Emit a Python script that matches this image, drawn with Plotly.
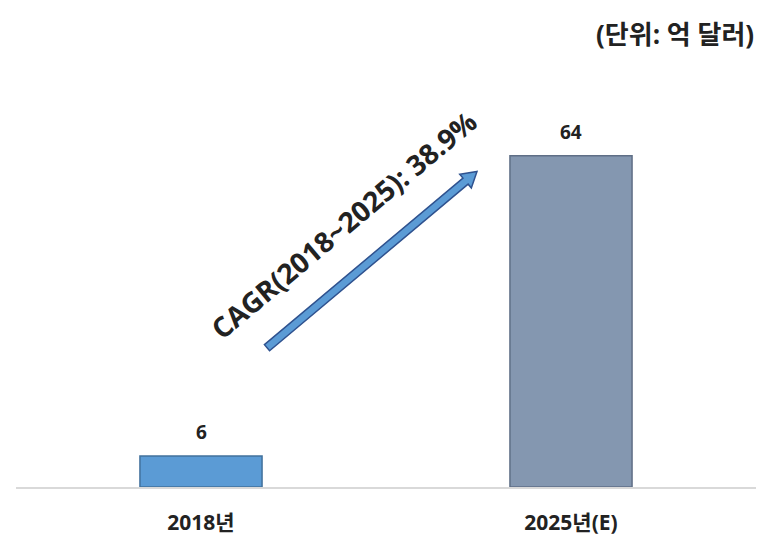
import math
import plotly.graph_objects as go

categories = ["2018년", "2025년(E)"]
values = [6, 64]
value_labels = ["6", "64"]
bar_colors = ["#5B9BD5", "#8497B0"]
bar_lines = ["#41719C", "#5F6F86"]
unit_text = "(단위: 억 달러)"
cagr_text = "CAGR(2018~2025): 38.9%"

W, H = 759, 539
L, R, T, B = 16, 3, 70, 50
PW, PH = W - L - R, H - T - B

def px(x):
    return (x - L) / PW

def py(y):
    return (H - B - y) / PH

FONT = "Open Sans, Noto Sans CJK KR, sans-serif"

fig = go.Figure()
fig.add_trace(go.Bar(
    x=categories, y=values,
    marker=dict(color=bar_colors, line=dict(color=bar_lines, width=1.5)),
    hoverinfo="skip",
))

for c, v, t in zip(categories, values, value_labels):
    fig.add_annotation(x=c, y=v, xref="x", yref="y", text="<b>%s</b>" % t,
                       showarrow=False, yshift=24,
                       font=dict(family=FONT, size=19, color="#222222"))

fig.add_annotation(x=px(756), y=py(34), xref="paper", yref="paper",
                   xanchor="right", yanchor="middle", text="<b>%s</b>" % unit_text,
                   showarrow=False, font=dict(family=FONT, size=26, color="#222222"))

# arrow as polygon (pixel geometry converted to paper coords)
tail = (267, 349)
tip = (477, 172)
dx, dy = tip[0] - tail[0], tip[1] - tail[1]
ln = math.hypot(dx, dy)
ux, uy = dx / ln, dy / ln
nx, ny = -uy, ux
sw, hw, hl = 4.0, 9.0, 15.0
neck = (tip[0] - ux * hl, tip[1] - uy * hl)
pts = [
    (tail[0] + nx * sw, tail[1] + ny * sw),
    (neck[0] + nx * sw, neck[1] + ny * sw),
    (neck[0] + nx * hw, neck[1] + ny * hw),
    tip,
    (neck[0] - nx * hw, neck[1] - ny * hw),
    (neck[0] - nx * sw, neck[1] - ny * sw),
    (tail[0] - nx * sw, tail[1] - ny * sw),
]
path = "M " + " L ".join("%.5f,%.5f" % (px(a), py(b)) for a, b in pts) + " Z"
fig.add_shape(type="path", path=path, xref="paper", yref="paper",
              fillcolor="#5B9BD5", line=dict(color="#2F528F", width=1.5))

fig.add_annotation(x=px(343), y=py(226), xref="paper", yref="paper",
                   text="<b>%s</b>" % cagr_text, textangle=-40, showarrow=False,
                   font=dict(family=FONT, size=28, color="#222222"))

fig.update_layout(
    width=W, height=H,
    margin=dict(l=L, r=R, t=T, b=B),
    paper_bgcolor="white", plot_bgcolor="white",
    bargap=0.67, showlegend=False,
    xaxis=dict(showline=True, linecolor="#D9D9D9", linewidth=1.5, showgrid=False,
               ticks="outside", ticklen=16, tickcolor="rgba(0,0,0,0)",
               tickfont=dict(family=FONT, size=21, color="#222222"),
               fixedrange=True),
    yaxis=dict(visible=False, range=[0, PH / 5.2], fixedrange=True),
)
fig.update_xaxes(tickprefix="<b>", ticksuffix="</b>")

fig.write_html("out.html", config={"displayModeBar": False})
